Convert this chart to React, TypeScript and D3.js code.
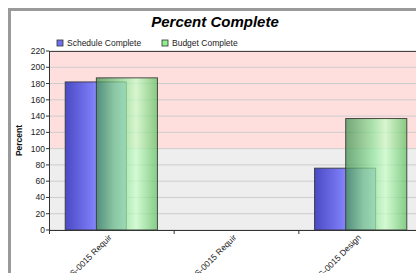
import React from 'react';
import * as d3 from 'd3';

const categories = ['CS-0015 Requir', 'CS-0015 Requir ', 'CS-0015 Design'];
const series = ['Schedule Complete', 'Budget Complete'];
const scheduleValues = [182, 0, 76];
const budgetValues = [187, 0, 137];
const yTicks = [0, 20, 40, 60, 80, 100, 120, 140, 160, 180, 200, 220];

const W = 416;
const H = 273;
const plot = { left: 49, right: 423, top: 51, bottom: 230 };
const font = '"Liberation Sans", Arial, sans-serif';

export default function App() {
  const x = d3.scaleBand<string>().domain(categories).range([plot.left, plot.right]).padding(0);
  const y = d3.scaleLinear().domain([0, 220]).range([plot.bottom, plot.top]);
  const bw = x.bandwidth();
  const inner = d3.scalePoint<string>().domain(series).range([bw * 0.13, bw * 0.38]);
  const barW = bw * 0.49;
  const valuesBySeries = [scheduleValues, budgetValues];
  const fills = ['url(#gBlue)', 'url(#gGreen)'];
  const opac = [1, 0.72];

  return (
    <svg width={W} height={H} style={{ position: 'absolute', left: 0, top: 0, background: '#fff' }}>
      <defs>
        <linearGradient id="gBlue" x1="0" x2="1" y1="0" y2="0">
          <stop offset="0%" stopColor="#4a4ac4" />
          <stop offset="45%" stopColor="#7c7cf6" />
          <stop offset="80%" stopColor="#c8c8ff" />
          <stop offset="100%" stopColor="#a8a8ee" />
        </linearGradient>
        <linearGradient id="gGreen" x1="0" x2="1" y1="0" y2="0">
          <stop offset="0%" stopColor="#3e8f4e" />
          <stop offset="45%" stopColor="#8fe49a" />
          <stop offset="65%" stopColor="#c8ffc8" />
          <stop offset="100%" stopColor="#5cc060" />
        </linearGradient>
        <clipPath id="frameClip">
          <rect x={11} y={11} width={W} height={H} />
        </clipPath>
      </defs>

      {/* outer frame */}
      <rect x={9.5} y={9.5} width={W + 10} height={H + 10} fill="#fff" stroke="#9a9a9a" strokeWidth={3} />

      <g clipPath="url(#frameClip)">
        {/* title */}
        <text x={215} y={27} textAnchor="middle" fontFamily={font} fontSize={15} fontWeight="bold" fontStyle="italic" fill="#000">
          Percent Complete
        </text>

        {/* legend */}
        <rect x={57} y={40} width={6} height={6} fill="#7070ee" stroke="#333" strokeWidth={0.8} />
        <text x={67} y={46} fontFamily={font} fontSize={8.5} fill="#222">Schedule Complete</text>
        <rect x={162} y={40} width={6} height={6} fill="#90ee90" stroke="#333" strokeWidth={0.8} />
        <text x={172} y={46} fontFamily={font} fontSize={8.5} fill="#222">Budget Complete</text>

        {/* plot background bands */}
        <rect x={plot.left} y={y(220)} width={plot.right - plot.left} height={y(100) - y(220)} fill="#ffdede" />
        <rect x={plot.left} y={y(100)} width={plot.right - plot.left} height={y(0) - y(100)} fill="#eeeeee" />

        {/* grid */}
        {yTicks.map(t => (
          <line key={'g' + t} x1={plot.left} x2={plot.right} y1={y(t)} y2={y(t)} stroke="#cdcdcd" strokeWidth={1} />
        ))}
        <line x1={plot.left} x2={plot.right} y1={y(220) + 0.5} y2={y(220) + 0.5} stroke="#444" strokeWidth={1} />

        {/* bars */}
        {series.map((s, si) =>
          categories.map((c, ci) => {
            const v = valuesBySeries[si][ci];
            if (!v) return null;
            const bx = (x(c) as number) + (inner(s) as number);
            return (
              <rect
                key={s + ci}
                x={bx}
                y={y(v)}
                width={barW}
                height={y(0) - y(v)}
                fill={fills[si]}
                fillOpacity={opac[si]}
                stroke="#333"
                strokeOpacity={0.85}
                strokeWidth={1}
              />
            );
          })
        )}

        {/* y axis */}
        <line x1={plot.left + 0.5} x2={plot.left + 0.5} y1={plot.top} y2={plot.bottom} stroke="#333" />
        {yTicks.map(t => (
          <g key={'t' + t}>
            <line x1={plot.left - 3} x2={plot.left} y1={y(t)} y2={y(t)} stroke="#333" />
            <text x={plot.left - 4} y={y(t) + 3} textAnchor="end" fontFamily={font} fontSize={8.5} fill="#222">
              {t}
            </text>
          </g>
        ))}
        <text
          transform={`translate(22,${(plot.top + plot.bottom) / 2}) rotate(-90)`}
          textAnchor="middle"
          fontFamily={font}
          fontSize={8.5}
          fontWeight="bold"
          fill="#111"
        >
          Percent
        </text>

        {/* x axis */}
        <line x1={plot.left} x2={plot.right} y1={plot.bottom + 0.5} y2={plot.bottom + 0.5} stroke="#333" />
        {categories.map(c => (
          <line key={'xt' + c} x1={(x(c) as number) + 0.5} x2={(x(c) as number) + 0.5} y1={plot.bottom} y2={plot.bottom + 4} stroke="#333" />
        ))}
        {categories.map(c => {
          const cx = (x(c) as number) + bw / 2;
          return (
            <text
              key={'xl' + c}
              transform={`translate(${cx + 1},${plot.bottom + 8}) rotate(-45)`}
              textAnchor="end"
              fontFamily={font}
              fontSize={8.5}
              fill="#222"
            >
              {c.trim()}
            </text>
          );
        })}
      </g>
    </svg>
  );
}
